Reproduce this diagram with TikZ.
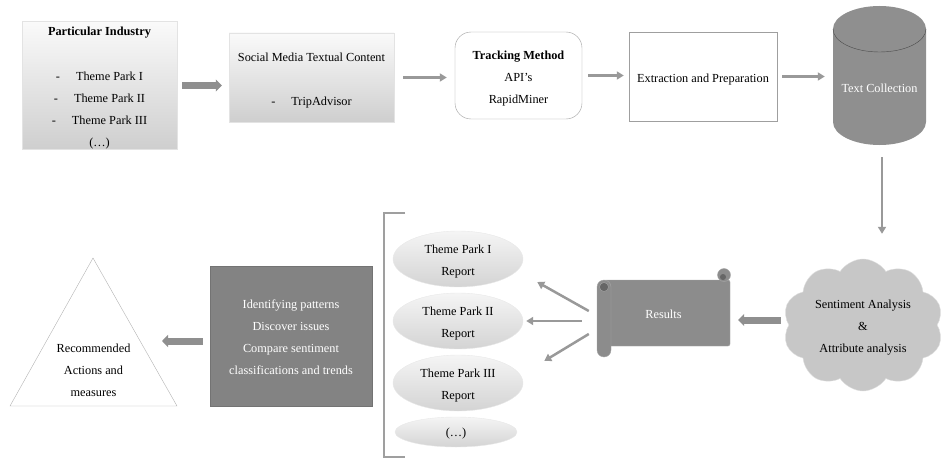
\documentclass[tikz,border=0pt]{standalone}
\usepackage{fontspec}
\setmainfont{Liberation Serif}
\usetikzlibrary{arrows.meta}
\usetikzlibrary{shapes.geometric}
\usetikzlibrary{shapes.symbols}

\newcommand{\sinkto}[1]{\rule{0pt}{#1}}

\begin{document}
\begin{tikzpicture}[x=1pt, y=-1pt,
  every node/.style={font=\fontsize{12.3}{22}\selectfont, align=center, inner sep=0pt},
  sink/.style={execute at begin node={\sinkto{#1}}},
  lightbox/.style={top color=gray!4, bottom color=gray!38, draw=gray!22},
  plainbox/.style={fill=white, draw=gray!75},
  report/.style={ellipse, top color=gray!8, bottom color=gray!34, draw=gray!18,
    minimum width=130pt, minimum height=56pt},
  thinarrow/.style={draw=gray!80, line width=2.5pt, -{Triangle[length=7pt, width=8pt]}},
  fatarrow/.style={draw=gray!88, line width=7pt, -{Triangle[length=6pt, width=12pt]}}]
\useasboundingbox (0,0) rectangle (943,460);

% top row
\node (ind) [lightbox, minimum width=155pt, minimum height=127pt] at (99.5,85.5)
  {\sinkto{14.5pt}\textbf{Particular Industry}\\[23pt]
   -\hspace{16pt}Theme Park I\\ -\hspace{16pt}Theme Park II\\
   -\hspace{16pt}Theme Park III\\ (…)};
\node (soc) [lightbox, minimum width=165pt, minimum height=89pt] at (311.5,77.5)
  {\sinkto{14.5pt}Social Media Textual Content\\[22pt] -\hspace{16pt}TripAdvisor};
\node (trk) [plainbox, rounded corners=16pt, minimum width=127pt, minimum height=87pt] at (518.5,75.5)
  {\sinkto{14.5pt}\textbf{Tracking Method}\\ API’s\\ RapidMiner};
\node (ext) [plainbox, sink=15.5pt, minimum width=148pt, minimum height=89pt] at (703,76.5)
  {Extraction and Preparation};

% text collection
\fill [gray!88] (833,29) -- (833,122)
  arc [start angle=180, end angle=360, x radius=46.5pt, y radius=23pt]
  -- (926,29) arc [start angle=0, end angle=180, x radius=46.5pt, y radius=23pt] -- cycle;
\draw [gray!60!black, thin] (833,29)
  arc [start angle=180, end angle=360, x radius=46.5pt, y radius=23pt];
\node (col) [minimum width=93pt, minimum height=139pt] at (879.5,75.5) {};
\node (coltext) [text=white] at ([yshift=-12.5pt]col.center) {Text Collection};

\draw [fatarrow, shorten <=5pt, shorten >=7pt] (ind.east) -- (ind.east -| soc.west);
\draw [thinarrow, shorten <=9pt, shorten >=8pt] (soc.east) -- (soc.east -| trk.west);
\draw [thinarrow, shorten <=6pt, shorten >=5pt] (trk.east) -- (trk.east -| ext.west);
\draw [thinarrow, shorten <=5pt, shorten >=8pt] (ext.east) -- (ext.east -| col.west);

% analysis
\node (cloud) [cloud, cloud puffs=10, cloud puff arc=115, aspect=1.2, fill=gray!44, draw=gray!25,
  minimum width=160pt, minimum height=132pt] at (863,325)
  {\sinkto{13.5pt}Sentiment Analysis\\ \&\\ Attribute analysis};
\draw [thinarrow, shorten <=12pt, shorten >=25pt] ([xshift=2.5pt]col.south) -- ([xshift=2.5pt]col.south |- cloud.north);

% results scroll
\filldraw [fill=gray!90, draw=gray!70, rounded corners=2pt] (604,280) rectangle (730,346);
\filldraw [fill=gray!90, draw=gray!70] (724,275) circle [radius=6.5pt];
\fill [gray!80!black] (723,277) circle [radius=3pt];
\filldraw [fill=gray!90, draw=gray!70, rounded corners=7pt] (597,280) rectangle (611,357);
\filldraw [fill=gray!80!black, draw=gray!70] (604,287) circle [radius=4.5pt];
\node (res) [minimum width=133pt, minimum height=89pt, text=white, sink=12.5pt] at (663.5,312.5) {Results};
\draw [fatarrow, shorten <=8pt, shorten >=8pt] ([yshift=5pt]cloud.west) -- ([yshift=5pt]cloud.west -| res.east);

% reports
\draw [gray!75, line width=1.8pt] (405,213) -- (384,213) -- (384,457) -- (405,457);
\node (rep1) [report] at (458,259) {\sinkto{14.5pt}Theme Park I\\ Report};
\node (rep2) [report] at (458,321) {\sinkto{14.5pt}Theme Park II\\ Report};
\node (rep3) [report] at (458,383) {\sinkto{14.5pt}Theme Park III\\ Report};
\node (rep4) [report, minimum width=122pt, minimum height=30pt, sink=11pt] at (456,432) {(…)};
\draw [thinarrow] ([xshift=-8pt, yshift=1.5pt]res.west) -- ([xshift=14pt, yshift=-23pt]rep1.east);
\draw [thinarrow, shorten >=3pt] ([xshift=-15pt]res.west |- rep2.east) -- (rep2.east);
\draw [thinarrow] ([xshift=-8pt, yshift=-21.5pt]res.west) -- ([xshift=21pt, yshift=22pt]rep3.east);

% findings and actions
\node (pat) [fill=gray!97, draw=gray!90!black, text=white, minimum width=162pt, minimum height=140pt] at (291,336)
  {\sinkto{11.5pt}Identifying patterns\\ Discover issues\\ Compare sentiment\\ classifications and trends};
\coordinate (top) at (93,258);
\coordinate (right) at (177,406);
\coordinate (left) at (10,406);
\draw [gray!60] (top) -- (right) -- (left) -- cycle;
\node (rec) at (93.5,370) {Recommended\\ Actions and\\ measures};
\coordinate (side) at (141,341);
\draw [fatarrow, shorten <=7pt, shorten >=21pt] (pat.west |- side) -- (side);
\end{tikzpicture}
\end{document}
